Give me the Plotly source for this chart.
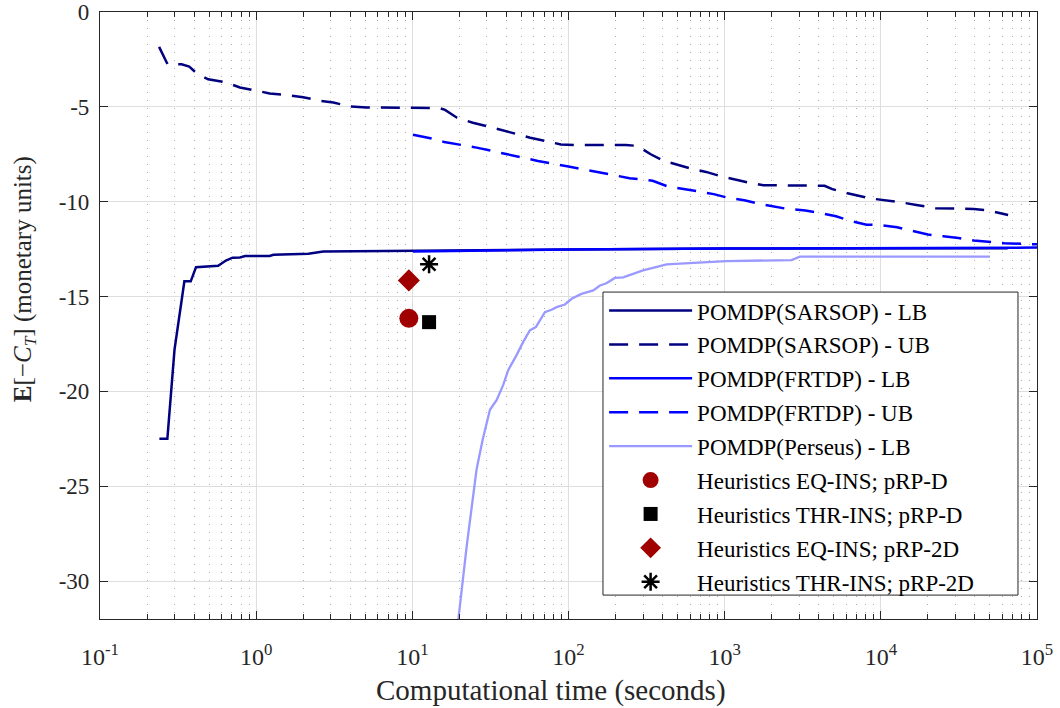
import plotly.graph_objects as go

# ---- data ----
sarsop_lb_x = [0.24, 0.27, 0.30, 0.347, 0.381, 0.412, 0.571, 0.615, 0.64, 0.706, 0.787, 0.85,
               1.22, 1.29, 2.16, 2.69, 10.1, 100, 1000, 65000]
sarsop_lb_y = [-22.5, -22.5, -17.8, -14.2, -14.2, -13.45, -13.38, -13.2, -13.1, -12.95, -12.94, -12.86,
               -12.86, -12.8, -12.74, -12.63, -12.58, -12.52, -12.47, -12.45]

sarsop_ub_x = [0.239, 0.271, 0.333, 0.373, 0.416, 0.493, 0.647, 0.787, 1.0, 1.22, 1.61, 2.0, 2.56, 3.12,
               3.98, 5.1, 15.0, 16.2, 19.2, 24.4, 36.2, 56.9, 89.4, 109, 233, 276, 336, 409, 607, 760,
               952, 1413, 1770, 4360, 4890, 6120, 8590, 12700, 16900, 22400, 39300, 49300, 65300]
sarsop_ub_y = [-1.84, -2.76, -2.76, -2.88, -3.23, -3.55, -3.72, -3.98, -4.14, -4.3, -4.39, -4.49, -4.68,
               -4.77, -4.98, -5.03, -5.07, -5.16, -5.56, -5.84, -6.19, -6.63, -6.98, -7.01, -7.01, -7.06,
               -7.5, -7.85, -8.25, -8.43, -8.67, -8.99, -9.13, -9.16, -9.34, -9.56, -9.83, -10.0, -10.17,
               -10.35, -10.38, -10.47, -10.7]

frtdp_lb_x = [10.1, 30, 100, 1000, 10000, 100000]
frtdp_lb_y = [-12.62, -12.56, -12.52, -12.47, -12.45, -12.42]

frtdp_ub_x = [10.1, 13.6, 16, 25.8, 40.6, 63.7, 100, 157, 246, 346, 433, 679, 851, 1067, 1336, 1771,
              2480, 3290, 4130, 5170, 6480, 8110, 10200, 12700, 16000, 20000, 25100, 31400, 39400,
              49300, 61800, 81900, 100000]
frtdp_ub_y = [-6.47, -6.68, -6.85, -7.15, -7.5, -7.85, -8.15, -8.45, -8.76, -8.9, -9.2, -9.46, -9.6,
              -9.81, -9.92, -10.16, -10.37, -10.47, -10.6, -10.77, -11.03, -11.21, -11.24, -11.35,
              -11.56, -11.73, -11.82, -11.91, -12.05, -12.12, -12.19, -12.22, -12.25]

perseus_lb_x = [19.6, 22.3, 25.8, 28.2, 31.4, 34.7, 38.2, 41.1, 46.5, 51.3, 56.6, 61.8, 70.6, 77.9,
                83.9, 94.8, 104.7, 121, 144, 159, 175, 198, 224, 300, 425, 625, 1020, 2680, 3030, 50000]
perseus_lb_y = [-32.2, -28.14, -24.1, -22.55, -20.97, -20.45, -19.66, -18.88, -18.09, -17.39, -16.78,
                -16.61, -15.82, -15.7, -15.56, -15.42, -15.12, -14.86, -14.68, -14.42, -14.3, -14.02,
                -13.99, -13.62, -13.3, -13.22, -13.13, -13.08, -12.9, -12.9]

heur_names = ["Heuristics EQ-INS; pRP-D", "Heuristics THR-INS; pRP-D",
              "Heuristics EQ-INS; pRP-2D", "Heuristics THR-INS; pRP-2D"]
heur_x = [9.5, 12.8, 9.5, 12.8]
heur_y = [-16.15, -16.35, -14.15, -13.3]

x_tickvals = [0.1, 1, 10, 100, 1000, 10000, 100000]
x_ticktext = ["10<sup>-1</sup>", "10<sup>0</sup>", "10<sup>1</sup>", "10<sup>2</sup>",
              "10<sup>3</sup>", "10<sup>4</sup>", "10<sup>5</sup>"]
y_tickvals = [-30, -25, -20, -15, -10, -5, 0]
y_ticktext = ["-30", "-25", "-20", "-15", "-10", "-5", "0"]

x_title = "Computational time (seconds)"
y_title = "<b>E</b>[\u2212<i>C</i><sub><i>T</i></sub>] (monetary units)"

# ---- styles ----
NAVY = "#000080"
BLUE = "#0000FF"
LIGHT = "#9999FF"
RED = "#A00000"
FONT = "Liberation Serif"
DASH = "19px,11px"
AX = "#262626"

fig = go.Figure()
line_traces = [
    (sarsop_lb_x, sarsop_lb_y, "POMDP(SARSOP) - LB", NAVY, "solid", 2.5),
    (sarsop_ub_x, sarsop_ub_y, "POMDP(SARSOP) - UB", NAVY, DASH, 2.5),
    (frtdp_lb_x, frtdp_lb_y, "POMDP(FRTDP) - LB", BLUE, "solid", 2.5),
    (frtdp_ub_x, frtdp_ub_y, "POMDP(FRTDP) - UB", BLUE, DASH, 2.5),
    (perseus_lb_x, perseus_lb_y, "POMDP(Perseus) - LB", LIGHT, "solid", 2.3),
]
for i, (xs, ys, nm, col, dsh, lw) in enumerate(line_traces):
    fig.add_trace(go.Scatter(x=xs, y=ys, mode="lines", name=nm, legendgroup=f"g{i}",
                             line=dict(color=col, width=lw, dash=dsh)))

marker_styles = [
    dict(symbol="circle", size=19, color=RED),
    dict(symbol="square", size=14, color="black"),
    dict(symbol="diamond", size=17, color=RED),
    dict(symbol="asterisk-open", size=15, color="black", line=dict(color="black", width=2.5)),
]
for i in range(4):
    fig.add_trace(go.Scatter(x=[heur_x[i]], y=[heur_y[i]], mode="markers", name=heur_names[i],
                             legendgroup=f"h{i}", marker=marker_styles[i]))

minor_vals = [m * 10 ** e for e in range(-1, 5) for m in range(2, 10)]

axis_common = dict(showline=True, linecolor=AX, linewidth=1.2, mirror="allticks",
                   ticks="inside", tickcolor=AX, ticklen=8, tickwidth=1,
                   showgrid=True, gridcolor="#DEDEDE", gridwidth=1, zeroline=False,
                   automargin=False, ticklabeloverflow="allow")

fig.update_xaxes(type="log", range=[-1, 5], tickmode="array", tickvals=x_tickvals, ticktext=x_ticktext,
                 tickfont=dict(family=FONT, size=24, color=AX),
                 minor=dict(tickmode="array", tickvals=minor_vals, ticks="inside", ticklen=5,
                            tickcolor=AX, showgrid=True, gridcolor="#AAAAAA", griddash="1px,7px",
                            gridwidth=1),
                 ticklabelstandoff=16,
                 **axis_common)
fig.update_yaxes(range=[-32, 0], tickmode="array", tickvals=y_tickvals, ticktext=y_ticktext,
                 tickfont=dict(family=FONT, size=23, color=AX),
                 ticklabelstandoff=5,
                 **axis_common)

# axis titles placed as annotations (positions as in the reference)
fig.add_annotation(text=x_title, xref="paper", yref="paper", x=0.4813, y=-0.117,
                   xanchor="center", yanchor="middle", showarrow=False,
                   font=dict(family=FONT, size=29, color=AX))
fig.add_annotation(text=y_title, xref="paper", yref="paper", x=-0.081, y=0.56,
                   xanchor="center", yanchor="middle", showarrow=False, textangle=-90,
                   font=dict(family=FONT, size=25, color=AX))

# legend frame (matches the boxed legend of the reference)
fig.add_shape(type="rect", xref="paper", yref="paper", x0=0.5368, x1=0.9797, y0=0.0394, y1=0.5386,
              fillcolor="white", line=dict(color=AX, width=1), layer="above")

fig.update_layout(
    width=1060, height=708,
    margin=dict(l=100, r=23, t=12, b=89),
    paper_bgcolor="white", plot_bgcolor="white",
    font=dict(family=FONT, color="black"),
    legend=dict(x=0.538, y=0.5435, xanchor="left", yanchor="top",
                bgcolor="rgba(0,0,0,0)", borderwidth=0,
                font=dict(family=FONT, size=23, color="black"),
                itemwidth=83, tracegroupgap=1),
    showlegend=True,
)

fig.write_html("out.html", config={"displayModeBar": False},
               post_script="document.body.style.margin='0';document.body.style.overflow='hidden';")
